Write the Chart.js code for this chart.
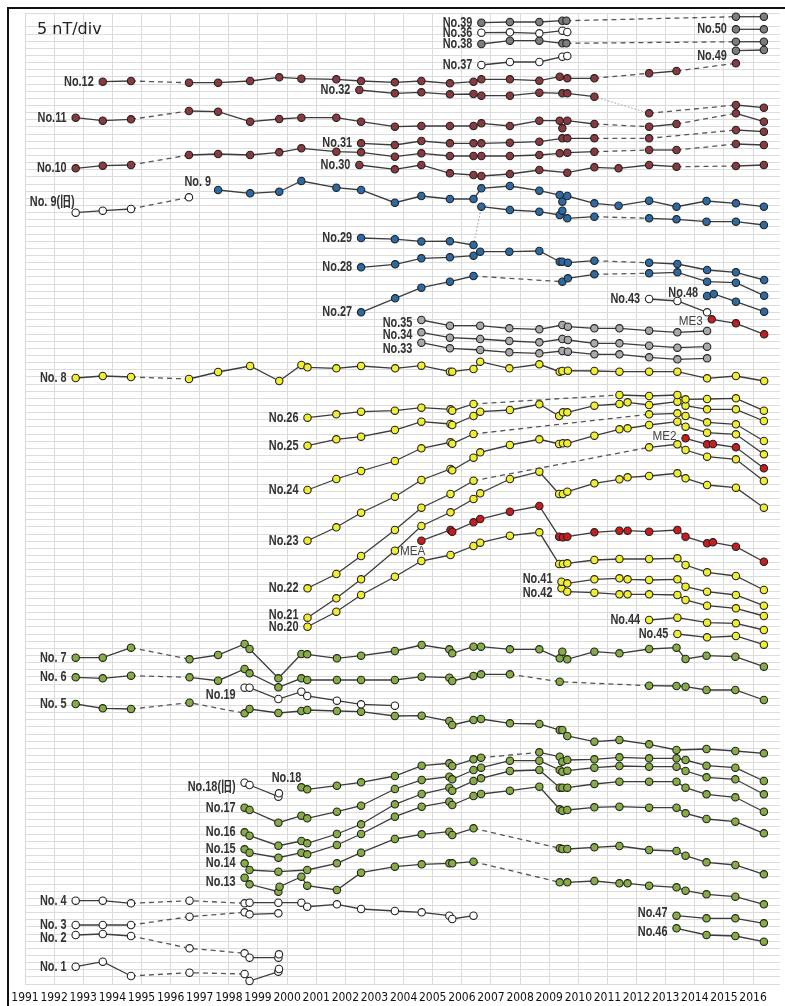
<!DOCTYPE html>
<html lang="ja">
<head>
<meta charset="utf-8">
<title>5 nT/div</title>
<script src="https://cdn.jsdelivr.net/npm/chart.js@4.4.1/dist/chart.umd.min.js"></script>
<style>
  html, body { margin: 0; padding: 0; background: #fff; }
  #wrap { position: relative; width: 785px; height: 1006px; }
</style>
</head>
<body>
<div id="wrap"><canvas id="chart"></canvas></div>
<script>
// Valeurs en nT (décalage arbitraire par station), x en année décimale.
const yearTicks = [1991, 1992, 1993, 1994, 1995, 1996, 1997, 1998, 1999, 2000, 2001, 2002, 2003,
    2004, 2005, 2006, 2007, 2008, 2009, 2010, 2011, 2012, 2013, 2014, 2015, 2016];

const no39 = [[2006.67, 672.9], [2007.65, 673.4], [2008.66, 673.4], [2009.45, 674.3], [2009.59, 674.3], [2015.41, 677.1], [2016.37, 677.1]];
const no36 = [[2006.67, 665.9], [2007.65, 666.2], [2008.66, 665.5], [2009.45, 667.3], [2009.62, 666.4]];
const no50 = [[2015.41, 668.3], [2016.37, 668.3]];
const no38 = [[2006.67, 658], [2007.65, 660.3], [2008.66, 660.3], [2009.45, 658.5], [2009.59, 658.5], [2015.41, 659.6], [2016.37, 659.6]];
const no49 = [[2015.41, 653.3], [2016.37, 653.8]];
const no37 = [[2006.67, 643.3], [2007.65, 645.4], [2008.66, 645.4], [2009.45, 649.1], [2009.62, 649.6]];

const no12 = [[1993.67, 631.6], [1994.64, 632.1], [1996.63, 630.9], [1997.63, 630.9], [1998.73, 632.1], [1999.73, 634.7],
    [2000.49, 633.7], [2001.69, 633.3], [2002.54, 632.1], [2003.70, 631.2], [2004.61, 632.1], [2005.59, 630.5],
    [2006.40, 631.6], [2006.67, 633.3], [2007.65, 633.3], [2008.66, 632.3], [2009.36, 635.1], [2009.62, 634],
    [2010.55, 634], [2012.43, 637.5], [2013.37, 639.1], [2015.41, 644.5]];
const no32 = [[2002.48, 625.8], [2003.70, 623.5], [2004.61, 624.2], [2005.59, 622.8], [2006.40, 623], [2006.67, 621.8],
    [2007.65, 621.8], [2008.66, 623.9], [2009.45, 623.5], [2009.62, 623.5], [2010.55, 621.1], [2012.43, 609.5],
    [2015.41, 615.3], [2016.37, 613.4]];
const no11 = [[1992.74, 606.4], [1993.67, 604.3], [1994.64, 605.3], [1996.63, 611.1], [1997.63, 610.6], [1998.73, 603.6],
    [1999.73, 605.5], [2000.49, 606.4], [2001.69, 606.4], [2002.54, 603.6], [2003.70, 600.1], [2004.61, 600.6],
    [2005.59, 600.6], [2006.40, 600.6], [2006.67, 602.5], [2007.65, 600.6], [2008.66, 604.3], [2009.36, 604.3],
    [2009.45, 599], [2009.62, 604.3], [2010.55, 602], [2012.43, 600.1], [2013.37, 602], [2015.41, 609.5], [2016.37, 603.6]];
const no31 = [[2002.54, 588.5], [2003.70, 587.3], [2004.61, 590.1], [2005.59, 588.5], [2006.40, 588.5], [2006.67, 588.5],
    [2007.65, 588.9], [2008.66, 589.6], [2009.45, 592], [2009.62, 592], [2010.55, 592], [2012.43, 592],
    [2015.41, 597.8], [2016.37, 596.6]];
const no10 = [[1992.74, 571], [1993.67, 572.8], [1994.64, 573.3], [1996.63, 580.3], [1997.63, 581], [1998.73, 580.3],
    [1999.73, 582.2], [2000.49, 585], [2001.69, 582.6], [2002.54, 582.2], [2003.70, 579.1], [2004.61, 581.5],
    [2005.59, 579.6], [2006.40, 579.6], [2006.67, 579.6], [2007.65, 579.6], [2008.66, 580.3], [2009.36, 581.5],
    [2009.62, 581.9], [2010.55, 582.6], [2012.43, 583.8], [2013.37, 583.8], [2015.41, 588], [2016.37, 587.3]];
const no30 = [[2002.48, 573.3], [2003.70, 570.3], [2004.61, 573.3], [2005.59, 567.5], [2006.40, 566.3], [2006.67, 565.6],
    [2007.65, 567], [2008.66, 569.8], [2009.62, 567.9], [2010.55, 571.7], [2011.38, 571], [2012.43, 573.3],
    [2013.37, 572.1], [2015.41, 572.6], [2016.37, 573.3]];

const no9old = [[1992.74, 539.9], [1993.67, 541.3], [1994.64, 542.5], [1996.63, 550.7]];
const no9 = [[1997.63, 555.8], [1998.73, 553.5], [1999.73, 554.6], [2000.49, 562.1], [2001.69, 557.4], [2002.54, 555.8],
    [2003.70, 546.9], [2004.61, 551.6], [2005.59, 549.5], [2006.40, 549.5], [2006.67, 557], [2007.65, 558.6],
    [2008.66, 555.3], [2009.36, 552.3], [2009.45, 547.6], [2009.62, 551.6], [2010.55, 546.5], [2011.38, 544.8],
    [2012.43, 548.3], [2013.37, 544.1], [2014.40, 548.1], [2015.41, 546.5], [2016.37, 544.1]];
const no29 = [[2002.54, 522.2], [2003.70, 521.4], [2004.61, 519.8], [2005.59, 520], [2006.40, 517.3], [2006.67, 544.1],
    [2007.65, 541.8], [2008.66, 540.6], [2009.36, 538.3], [2009.45, 541.3], [2009.62, 536], [2010.55, 537.1],
    [2012.43, 536], [2013.37, 535.3], [2014.40, 533.6], [2015.41, 533.6], [2016.37, 531.3]];
const no28 = [[2002.54, 501.7], [2003.71, 503.8], [2004.61, 508], [2005.59, 508.7], [2006.40, 509.8], [2006.63, 512.6],
    [2007.63, 512.6], [2008.66, 513.1], [2009.36, 505.6], [2009.45, 505.6], [2009.64, 504.9], [2010.55, 506.3],
    [2012.43, 504.9], [2013.40, 504], [2014.42, 499.8], [2015.41, 498.2], [2016.38, 492.8]];
const no27 = [[2002.54, 470.2], [2003.71, 480], [2004.61, 487.4], [2005.59, 491.6], [2006.40, 495.6], [2009.45, 491.6],
    [2009.64, 494], [2010.55, 496.8], [2012.43, 497.5], [2013.40, 498.2], [2014.42, 491.6], [2015.41, 490.9], [2016.38, 481.8]];
const no48 = [[2014.42, 481.6], [2014.65, 483], [2015.41, 477.6], [2016.38, 470.6]];
const no43 = [[2012.43, 479.5], [2013.40, 478.1], [2014.42, 470.2]];
const me3 = [[2014.58, 465.3], [2015.41, 462.5], [2016.38, 454.8]];

const no35 = [[2004.61, 464.8], [2005.59, 460.8], [2006.63, 460.8], [2007.63, 459], [2008.66, 458.3], [2009.45, 461.3],
    [2009.64, 460.1], [2010.55, 459], [2011.41, 459], [2012.43, 457.3], [2013.40, 456.2], [2014.42, 457.1]];
const no34 = [[2004.61, 456.2], [2005.59, 452.4], [2006.63, 451.5], [2007.63, 450.1], [2008.66, 449.2], [2009.45, 451.5],
    [2009.64, 450.8], [2010.55, 448.5], [2011.41, 448.5], [2012.43, 446.8], [2013.40, 445.4], [2014.42, 446.1]];
const no33 = [[2004.61, 448.9], [2005.59, 445], [2006.63, 443.8], [2007.63, 442.2], [2008.66, 441.5], [2009.45, 443.1],
    [2009.64, 442.6], [2010.55, 440.8], [2011.41, 440.8], [2012.43, 438.7], [2013.40, 437.3], [2014.42, 438]];

const no8 = [[1992.74, 424.2], [1993.67, 425.6], [1994.64, 424.9], [1996.63, 423.5], [1997.63, 428.4], [1998.73, 432.6],
    [1999.73, 422.1], [2000.49, 433.3], [2000.70, 431.7], [2001.69, 431], [2002.54, 432.6], [2003.71, 431],
    [2004.61, 432.8], [2005.59, 428.6], [2005.67, 428.6], [2006.40, 430.5], [2006.63, 435.6], [2007.63, 431],
    [2008.66, 433.8], [2009.36, 428.6], [2009.45, 429.1], [2009.64, 429.3], [2010.55, 429.1], [2011.41, 428.6],
    [2012.43, 428.6], [2013.40, 428.6], [2014.42, 424], [2015.41, 425.6], [2016.38, 422.1]];
const no26 = [[2000.70, 396.4], [2001.69, 398.8], [2002.54, 400.6], [2003.70, 401.3], [2004.61, 403.4], [2005.61, 402.3],
    [2005.67, 401.3], [2006.40, 406], [2011.41, 412.3], [2012.43, 411.6], [2013.40, 412.3], [2013.68, 409.3],
    [2014.42, 409.5], [2015.41, 410], [2016.37, 401.3]];
const no25 = [[2000.70, 376.8], [2001.69, 381.3], [2002.54, 383.1], [2003.70, 387.8], [2004.61, 393.6], [2005.61, 392],
    [2005.67, 391.3], [2006.40, 397.6], [2006.63, 400.6], [2007.65, 401.8], [2008.66, 405.8], [2009.34, 397.6],
    [2009.47, 400.2], [2009.62, 400.2], [2010.55, 404.8], [2011.41, 406], [2011.69, 407.2], [2012.43, 405.3],
    [2013.40, 407.6], [2013.68, 404.8], [2014.42, 402.3], [2015.41, 402.3], [2016.37, 394.1]];
const no24 = [[2000.70, 345.8], [2001.69, 353.5], [2002.54, 359.1], [2003.70, 366.1], [2004.61, 375], [2005.61, 379.2],
    [2005.67, 378.2], [2006.40, 385], [2012.43, 398.8], [2013.40, 399.5], [2013.68, 397.6], [2014.42, 393.2],
    [2015.41, 391.8], [2016.37, 380.1]];
const no23 = [[2000.70, 310.3], [2001.69, 319.7], [2002.54, 329.9], [2003.70, 341.1], [2004.61, 352.8], [2005.61, 360.5],
    [2005.67, 359.6], [2006.40, 368.4], [2006.63, 372.2], [2007.65, 377.3], [2008.66, 381.3], [2009.34, 378],
    [2009.47, 378.5], [2009.62, 378.5], [2010.55, 383.8], [2011.41, 388.3], [2011.69, 389], [2012.43, 391.3],
    [2013.40, 393.6], [2013.68, 390.1], [2014.42, 385.9], [2015.41, 384.8], [2016.37, 370.8]];
const me2 = [[2013.68, 382], [2014.42, 377.8], [2014.62, 378], [2015.41, 375.7], [2016.37, 361]];
const no22 = [[2000.70, 277], [2001.69, 287], [2002.54, 299.6], [2003.70, 317.8], [2004.61, 333.4], [2005.61, 343],
    [2006.40, 352.3], [2012.43, 375.7], [2013.40, 377.8], [2013.68, 373.8], [2014.42, 369.1], [2015.41, 367.3],
    [2016.37, 352.1]];
const no21 = [[2000.70, 256.4], [2001.69, 270], [2002.54, 283.3], [2003.70, 303.3], [2004.61, 320.6], [2005.61, 330.2],
    [2006.40, 339.5], [2006.63, 343.5], [2007.65, 353.5], [2008.66, 358.6], [2009.34, 343], [2009.47, 343],
    [2009.62, 344.6], [2010.55, 350.5], [2011.41, 353.3], [2011.69, 354.7], [2012.43, 355.6], [2013.40, 357.5],
    [2013.68, 354], [2014.42, 349.3], [2015.41, 347.4], [2016.37, 333.4]];
const mea = [[2004.61, 310.3], [2005.61, 317.8], [2005.67, 316.6], [2006.40, 323.2], [2006.63, 325.5], [2007.65, 330.6],
    [2008.66, 334.6], [2009.34, 313.1], [2009.47, 312.7], [2009.62, 313.1], [2010.55, 316.2], [2011.41, 317.3],
    [2011.69, 317.3], [2012.43, 316.6], [2013.40, 317.8], [2013.68, 313.1], [2014.42, 308.5], [2014.62, 309.2],
    [2015.41, 306.1], [2016.37, 295.6]];
const no20 = [[2000.70, 250.1], [2001.69, 260.6], [2002.54, 272.3], [2003.70, 285.1], [2004.61, 296.1], [2005.61, 300.3],
    [2006.40, 306.6], [2006.63, 308.9], [2007.65, 313.8], [2008.66, 316.2], [2009.34, 294], [2009.47, 294],
    [2009.62, 294.5], [2010.55, 296.8], [2011.41, 297.5], [2012.43, 297.5], [2013.40, 298], [2013.68, 293.3],
    [2014.42, 288.2], [2015.41, 285.6], [2016.37, 275.8]];
const no41 = [[2009.42, 281.6], [2009.62, 280.5], [2010.55, 283.3], [2011.41, 284], [2011.69, 283.3], [2012.43, 282.8],
    [2013.40, 283.3], [2013.68, 278.1], [2014.42, 274.6], [2015.41, 272.3], [2016.37, 264.8]];
const no42 = [[2009.42, 277], [2009.62, 274.6], [2010.55, 273.9], [2011.41, 272.8], [2011.69, 272.8], [2012.43, 272.8],
    [2013.40, 272.3], [2013.68, 268.8], [2014.42, 264.8], [2015.41, 263], [2016.37, 257.6]];
const no44 = [[2012.43, 254.8], [2013.40, 256.4], [2014.42, 252.9], [2015.41, 252.5], [2016.37, 247.8]];
const no45 = [[2013.40, 245], [2014.42, 242.7], [2015.41, 243.6], [2016.37, 237.5]];

const no7 = [[1992.74, 228.4], [1993.67, 228.4], [1994.64, 235.4], [1996.65, 227.3], [1997.63, 230.3], [1998.54, 238],
    [1998.71, 234.5], [1999.70, 214], [2000.49, 231], [2000.69, 230.8], [2001.71, 228], [2002.54, 229.8],
    [2003.70, 233.1], [2004.62, 237.3], [2005.57, 234.3], [2005.67, 231.5], [2006.40, 236.1], [2006.66, 236.1],
    [2007.65, 234.3], [2008.66, 234.3], [2009.36, 228], [2009.45, 232.6], [2009.62, 227.3], [2010.55, 232.6],
    [2011.41, 231.5], [2012.43, 234.5], [2013.37, 235.4], [2013.68, 227.5], [2014.40, 229.8], [2015.39, 229.1],
    [2016.37, 222.1]];
const no6 = [[1992.74, 214.7], [1993.67, 214], [1994.64, 215.8], [1996.65, 214.7], [1997.63, 212.3], [1998.54, 220.5],
    [1998.71, 217.5], [1999.70, 207.7], [2000.49, 214], [2000.69, 212.8], [2001.71, 212.8], [2002.54, 212.8],
    [2003.70, 212.8], [2004.62, 215.1], [2005.57, 214.4], [2005.67, 212.1], [2006.40, 215.6], [2006.66, 216.8],
    [2007.65, 216.8], [2009.36, 211.6], [2012.43, 208.8], [2013.37, 208.6], [2013.68, 208.1], [2014.40, 205.8],
    [2015.39, 205.8], [2016.37, 198.8]];
const no19 = [[1998.54, 207.4], [1998.71, 207.4], [1999.70, 199.5], [2000.49, 204.6], [2000.69, 201.6], [2001.71, 198.3],
    [2002.54, 195.8], [2003.70, 194.8]];
const no5 = [[1992.74, 196], [1993.67, 193], [1994.64, 192.5], [1996.65, 196.9], [1998.54, 189.5], [1998.71, 192.5],
    [1999.70, 189.7], [2000.49, 191.1], [2000.69, 191.8], [2001.71, 191.1], [2002.54, 190.6], [2003.70, 187.6],
    [2004.62, 187.8], [2005.57, 184.1], [2005.67, 181.3], [2006.40, 184.8], [2006.66, 185.5], [2007.65, 182.5],
    [2008.66, 182], [2009.36, 177.8], [2009.45, 177.8], [2009.62, 173.6], [2010.55, 169.6], [2011.41, 170.8],
    [2012.43, 167.8], [2013.37, 163.8], [2014.40, 164.5], [2015.39, 163.1], [2016.37, 161.5]];

const no18old = [[1998.54, 140.9], [1998.71, 139.3], [1999.70, 131.1], [1999.72, 133.5]];
const no18 = [[2000.49, 137.7], [2000.69, 136.3], [2001.71, 138.8], [2002.54, 141.2], [2003.70, 145.6], [2004.62, 152.8],
    [2005.57, 154.5], [2005.67, 152.6], [2006.40, 157.3], [2006.66, 158.4], [2008.66, 162.2], [2009.36, 159.1],
    [2009.45, 155.6], [2009.62, 156.8], [2010.55, 157.3], [2011.41, 158.7], [2012.43, 158], [2013.37, 158],
    [2013.68, 156.8], [2014.40, 152.8], [2015.39, 151.4], [2016.37, 142.1]];
const no17 = [[1998.54, 123.4], [1998.71, 121.8], [1999.70, 112.9], [2000.49, 117.8], [2000.69, 116], [2001.71, 120.6],
    [2002.54, 124.8], [2003.70, 136.5], [2004.62, 142.8], [2005.57, 145.1], [2005.67, 143.3], [2006.40, 149.8],
    [2006.66, 151.4], [2007.65, 156.3], [2008.66, 156.3], [2009.36, 149.8], [2009.45, 148.6], [2009.62, 149.3],
    [2010.55, 151.4], [2011.41, 152.6], [2012.43, 152.1], [2013.37, 152.1], [2013.68, 149.1], [2014.40, 144.7],
    [2015.39, 143.3], [2016.37, 132.8]];
const no16 = [[1998.54, 106.2], [1998.71, 103.8], [1999.70, 96.8], [2000.49, 100.1], [2000.69, 98.5], [2001.71, 105],
    [2002.54, 111.8], [2003.70, 125.8], [2004.62, 133], [2005.57, 137.4], [2005.67, 135.3], [2006.40, 142.1],
    [2006.66, 144], [2007.65, 149.1], [2008.66, 149.8], [2009.36, 137.4], [2009.45, 137.4], [2009.62, 137.4],
    [2010.55, 140], [2011.41, 141.6], [2012.43, 141.6], [2013.37, 141.6], [2013.68, 137.4], [2014.40, 132.8],
    [2015.39, 130.7], [2016.37, 120.6]];
const no15 = [[1998.54, 94.3], [1998.71, 91.9], [1999.70, 88.4], [2000.49, 91.9], [2000.69, 90.8], [2001.71, 97.3],
    [2002.54, 105], [2003.70, 117.1], [2004.62, 124.1], [2005.57, 127.6], [2005.67, 125.3], [2006.40, 131.6],
    [2006.66, 133], [2007.65, 135.3], [2008.66, 138.1], [2009.36, 122.3], [2009.45, 121.3], [2009.62, 121.8],
    [2010.55, 123.7], [2011.41, 124.1], [2012.43, 123.4], [2013.37, 123.4], [2013.68, 119.5], [2014.40, 115.5],
    [2015.39, 113.6], [2016.37, 105.5]];
const no14 = [[1998.54, 84.5], [1998.71, 79.8], [1999.70, 78.6], [2000.69, 79.8], [2001.71, 84.5], [2002.54, 91.9],
    [2003.70, 101.5], [2004.62, 104.8], [2005.57, 106.6], [2005.67, 104.3], [2006.40, 109], [2009.36, 95],
    [2009.45, 94.5], [2009.62, 94.5], [2010.55, 95.7], [2011.41, 96.6], [2012.43, 93.8], [2013.37, 93.1],
    [2013.68, 89.8], [2014.40, 85.2], [2015.39, 83.3], [2016.37, 76.8]];
const no13 = [[1998.54, 74.4], [1998.71, 69.8], [1999.70, 64.6], [1999.74, 68.1], [2000.49, 75.1], [2000.69, 68.8],
    [2001.71, 65.8], [2002.54, 77.9], [2003.70, 82.1], [2004.62, 83.8], [2005.57, 84.5], [2005.67, 84.5],
    [2006.40, 85.6], [2009.36, 71.2], [2009.62, 71.2], [2010.55, 72.1], [2011.41, 70.5], [2011.69, 70.5],
    [2012.43, 68.8], [2013.37, 67.7], [2013.68, 65.3], [2014.40, 62.8], [2015.39, 61.1], [2016.37, 55.8]];

const no4 = [[1992.74, 58.3], [1993.67, 58.3], [1994.64, 56.5], [1996.65, 58.3], [1998.54, 56.5], [1998.71, 56.9],
    [1999.70, 56.9], [2000.49, 56.9], [2000.69, 54.1], [2001.71, 55.8], [2002.54, 52.5], [2003.70, 51.1],
    [2004.62, 50.2], [2005.57, 47.8], [2005.67, 45.5], [2006.40, 47.8]];
const no3 = [[1992.74, 41.3], [1993.67, 41.3], [1994.64, 41.3], [1996.65, 47.1], [1998.54, 50.2], [1998.71, 48.8], [1999.70, 49.5]];
const no2 = [[1992.74, 34.3], [1993.67, 35], [1994.64, 33.6], [1996.65, 25], [1998.54, 21.5], [1998.71, 18.4],
    [1999.70, 18.4], [1999.72, 20.8]];
const no1 = [[1992.74, 12.1], [1993.67, 15.6], [1994.64, 5.6], [1996.65, 7.9], [1998.54, 7], [1998.71, 2.1],
    [1999.70, 8.6], [1999.72, 10.5]];
const no47 = [[2013.37, 47.8], [2014.40, 46], [2015.39, 46], [2016.37, 42.5]];
const no46 = [[2013.37, 39], [2014.40, 34.3], [2015.39, 33.6], [2016.37, 29.6]];

// Couleurs des marqueurs par groupe
const BROWN = '#8a3a3e';
const GRAY = '#7d7d7d';
const LIGHT = '#a9a9a9';
const OPEN = '#ffffff';
const BLUE = '#2c6aa3';
const YELLOW = '#f0ee30';
const RED = '#c81c1f';
const GREEN = '#86ad43';

const GAP = 1.3; // au-delà : interruption des mesures, trait pointillé

const series = [
    { name: 'No.39', pts: no39, fill: GRAY },
    { name: 'No.36', pts: no36, fill: OPEN },
    { name: 'No.50', pts: no50, fill: GRAY },
    { name: 'No.38', pts: no38, fill: GRAY },
    { name: 'No.49', pts: no49, fill: GRAY, lab: [0, 5] },
    { name: 'No.37', pts: no37, fill: OPEN },
    { name: 'No.12', pts: no12, fill: BROWN },
    { name: 'No.32', pts: no32, fill: BROWN, dotted: [10] },
    { name: 'No.11', pts: no11, fill: BROWN },
    { name: 'No.31', pts: no31, fill: BROWN },
    { name: 'No.10', pts: no10, fill: BROWN },
    { name: 'No.30', pts: no30, fill: BROWN },
    { name: 'No. 9(旧)', pts: no9old, fill: OPEN, lab: [8, -11] },
    { name: 'No. 9', pts: no9, fill: BLUE, lab: [2, -8] },
    { name: 'No.29', pts: no29, fill: BLUE, dotted: [4] },
    { name: 'No.28', pts: no28, fill: BLUE },
    { name: 'No.27', pts: no27, fill: BLUE },
    { name: 'No.48', pts: no48, fill: BLUE, lab: [0, -3] },
    { name: 'No.43', pts: no43, fill: OPEN },
    { name: 'ME3', pts: me3, fill: RED, lab: [0, 2], light: true },
    { name: 'No.35', pts: no35, fill: LIGHT, lab: [0, 3] },
    { name: 'No.34', pts: no34, fill: LIGHT, lab: [0, 3] },
    { name: 'No.33', pts: no33, fill: LIGHT, lab: [0, 6] },
    { name: 'No. 8', pts: no8, fill: YELLOW },
    { name: 'No.26', pts: no26, fill: YELLOW },
    { name: 'No.25', pts: no25, fill: YELLOW },
    { name: 'No.24', pts: no24, fill: YELLOW },
    { name: 'No.23', pts: no23, fill: YELLOW },
    { name: 'ME2', pts: me2, fill: RED, lab: [0, -2], light: true },
    { name: 'No.22', pts: no22, fill: YELLOW },
    { name: 'No.21', pts: no21, fill: YELLOW, lab: [0, -3] },
    { name: 'MEA', pts: mea, fill: RED, lab: [13, 11], light: true },
    { name: 'No.20', pts: no20, fill: YELLOW },
    { name: 'No.41', pts: no41, fill: YELLOW, lab: [0, -3] },
    { name: 'No.42', pts: no42, fill: YELLOW, lab: [0, 5] },
    { name: 'No.44', pts: no44, fill: YELLOW },
    { name: 'No.45', pts: no45, fill: YELLOW },
    { name: 'No. 7', pts: no7, fill: GREEN },
    { name: 'No. 6', pts: no6, fill: GREEN },
    { name: 'No.19', pts: no19, fill: OPEN, lab: [0, 7] },
    { name: 'No. 5', pts: no5, fill: GREEN },
    { name: 'No.18(旧)', pts: no18old, fill: OPEN, lab: [0, 4] },
    { name: 'No.18', pts: no18, fill: GREEN, lab: [9, -9] },
    { name: 'No.17', pts: no17, fill: GREEN },
    { name: 'No.16', pts: no16, fill: GREEN },
    { name: 'No.15', pts: no15, fill: GREEN },
    { name: 'No.14', pts: no14, fill: GREEN },
    { name: 'No.13', pts: no13, fill: GREEN, lab: [0, 4] },
    { name: 'No. 4', pts: no4, fill: OPEN },
    { name: 'No. 3', pts: no3, fill: OPEN },
    { name: 'No. 2', pts: no2, fill: OPEN, lab: [0, 3] },
    { name: 'No. 1', pts: no1, fill: OPEN },
    { name: 'No.47', pts: no47, fill: GREEN, lab: [0, -3] },
    { name: 'No.46', pts: no46, fill: GREEN, lab: [0, 4] }
];

// Police étroite simulée : Liberation Sans compressée horizontalement
const LABEL_FONT = 'bold 14px "Liberation Sans", Arial, "Noto Sans CJK JP", sans-serif';
const ME_FONT = '13px "Liberation Sans", Arial, sans-serif';
const SQUEEZE = 0.78;

function isDotted(s, i) {
    return !!s.dotted && s.dotted.includes(i);
}

const datasets = series.map(s => ({
    label: s.name,
    data: s.pts.map(p => ({ x: p[0], y: p[1] })),
    showLine: true,
    borderColor: '#3c3c3c',
    borderWidth: 1.3,
    pointRadius: 3.7,
    pointBackgroundColor: s.fill,
    pointBorderColor: '#222',
    pointBorderWidth: 1.1,
    clip: false,
    segment: {
        borderDash: ctx => {
            if (isDotted(s, ctx.p0DataIndex)) return [1.5, 2];
            return ctx.p1.parsed.x - ctx.p0.parsed.x > GAP ? [5, 4] : undefined;
        },
        borderColor: ctx => isDotted(s, ctx.p0DataIndex) ? '#9a9a9a'
            : (ctx.p1.parsed.x - ctx.p0.parsed.x > GAP ? '#555' : undefined),
        borderWidth: ctx => isDotted(s, ctx.p0DataIndex) ? 1 : undefined
    }
}));

// Étiquettes des stations, cadre et échelle
const decor = {
    id: 'decor',
    afterDatasetsDraw(chart) {
        const ctx = chart.ctx;
        ctx.save();
        ctx.textAlign = 'right';
        ctx.textBaseline = 'middle';
        series.forEach((s, i) => {
            const first = chart.getDatasetMeta(i).data[0];
            const off = s.lab || [0, 0];
            ctx.save();
            ctx.font = s.light ? ME_FONT : LABEL_FONT;
            ctx.fillStyle = s.light ? '#444' : '#333';
            ctx.translate(first.x - 9 + off[0], first.y + off[1]);
            ctx.scale(s.light ? 0.9 : SQUEEZE, 1);
            ctx.fillText(s.name, 0, 0);
            ctx.restore();
        });

        ctx.font = '16px "DejaVu Sans", sans-serif';
        ctx.fillStyle = '#222';
        ctx.textAlign = 'left';
        ctx.fillText('5 nT/div', 37, 30);

        ctx.strokeStyle = '#111';
        ctx.lineWidth = 2;
        ctx.strokeRect(8, 8, 800, 1020);
        ctx.restore();
    }
};

new Chart(document.getElementById('chart'), {
    type: 'scatter',
    data: { datasets },
    options: {
        responsive: true,
        maintainAspectRatio: false,
        animation: false,
        events: [],
        layout: { padding: { left: 25, top: 13, right: 0, bottom: 0 } },
        plugins: { legend: { display: false }, tooltip: { enabled: false } },
        scales: {
            x: {
                type: 'linear',
                min: 1991,
                max: 2016.92,
                afterBuildTicks: scale => { scale.ticks = yearTicks.map(v => ({ value: v })); },
                afterFit: scale => { scale.height = 22; },
                ticks: {
                    autoSkip: false,
                    maxRotation: 0,
                    padding: 7,
                    color: '#111',
                    font: { family: '"Liberation Sans Narrow", "DejaVu Sans Condensed", sans-serif', size: 12 },
                    callback: v => String(v)
                },
                grid: { color: '#dadada', drawTicks: false },
                border: { display: false }
            },
            y: {
                min: 0,
                max: 679.7,
                afterFit: scale => { scale.width = 0; },
                ticks: { display: false, stepSize: 5 },
                grid: { color: '#dcdcdc', drawTicks: false },
                border: { display: false }
            }
        }
    },
    plugins: [decor]
});
</script>
</body>
</html>
